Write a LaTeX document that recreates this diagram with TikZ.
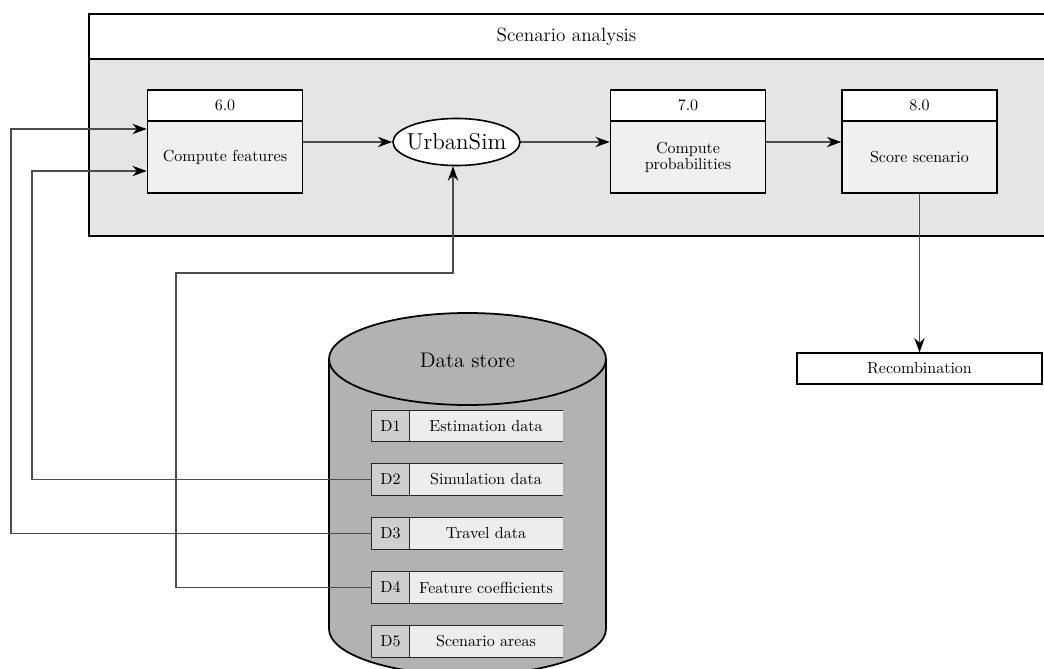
\documentclass[tikz,border=0pt]{standalone}
\usetikzlibrary{arrows.meta,shapes.geometric}
\begin{document}
\begin{tikzpicture}[x=0.625pt,y=-0.625pt,
  conn/.style={draw=black!70,line width=0.65pt},
  arr/.style={conn,-{Stealth[length=9pt,width=6.5pt,inset=3pt,color=black]}},
  hdr/.style={draw,line width=1pt,fill=white,minimum width=96.9pt,minimum height=19.4pt,inner sep=0pt},
  procbody/.style={draw,line width=1pt,fill=black!6,minimum width=96.9pt,minimum height=45pt,inner sep=0pt,align=center,font={\fontsize{10}{10}\selectfont}},
  dcell/.style={fill=black!19,minimum width=23.1pt,minimum height=19.1pt,inner sep=0pt},
  lcell/.style={fill=black!7,minimum width=96.25pt,minimum height=19.1pt,inner sep=0pt},
  entryline/.style={draw=black!85,line width=0.7pt}]
\useasboundingbox (0,0) rectangle (1044,669);
\clip (0,0) rectangle (1044,669);

% scenario frame with its title band
\draw[line width=1.4pt,fill=white] (89,14) rectangle (1052,59);
\draw[line width=1.4pt,fill=black!10] (89,59) rectangle (1052,236);
\node[font=\large] (title) at (566.5,37) {Scenario analysis};

% processes
\node[hdr] (h6) at (225,105.5) {6.0};
\node[procbody] (b6) at (225,157) {Compute features};
\node[hdr] (h7) at (688,105.5) {7.0};
\node[procbody] (b7) at (688,157) {Compute\\probabilities};
\node[hdr] (h8) at (919.5,105.5) {8.0};
\node[procbody] (b8) at (919.5,157) {Score scenario};

\node[ellipse,draw,line width=1pt,fill=white,minimum width=79.4pt,minimum height=29.4pt,inner xsep=-4pt,inner ysep=0pt,font=\Large] (urban) at (456.5,142) {UrbanSim};

\node[draw,line width=0.7pt,fill=white,minimum width=153.1pt,minimum height=19.4pt,inner sep=0pt] (rec) at (919.5,368.5) {Recombination};

% data store cylinder
\filldraw[fill=black!30,draw=black,line width=1.1pt]
  (329,359) -- (329,629) arc[start angle=180,end angle=0,x radius=138.5,y radius=46]
  -- (606,359) arc[start angle=0,end angle=-180,x radius=138.5,y radius=46] -- cycle;
\draw[line width=1.1pt] (329,359) arc[start angle=180,end angle=0,x radius=138.5,y radius=46];
\node[font={\fontsize{13.2}{15}\selectfont}] (store) at (467.5,360) {Data store};

% data store entries
\foreach \i/\y/\t in {1/426/Estimation data,2/479.5/Simulation data,3/533.5/Travel data,4/587.5/Feature coefficients,5/641.5/Scenario areas}{
  \node[dcell] (d\i) at (390.5,\y) {D\i};
  \node[lcell] (l\i) at (486,\y) {\t};
  \draw[entryline] (l\i.north east) -- (d\i.north west) -- (d\i.south west) -- (l\i.south east);
  \draw[entryline] (d\i.north east) -- (d\i.south east);
}

% flows
\coordinate (k2) at (32,171);
\coordinate (k3) at (11,129);
\coordinate (k4) at (176,273);
\draw[arr] (d2.west) -| (k2) -- (k2 -| b6.west);
\draw[arr] (d3.west) -| (k3) -- (k3 -| b6.west);
\draw[arr] (d4.west) -| (k4) -| ([xshift=-2.2pt]urban.south);
\draw[arr] (b6.east |- urban.west) -- (urban.west);
\draw[arr] (urban.east) -- (urban.east -| b7.west);
\draw[arr] (b7.east |- urban.east) -- (urban.east -| b8.west);
\draw[arr] (b8.south) -- (rec.north);
\end{tikzpicture}
\end{document}
